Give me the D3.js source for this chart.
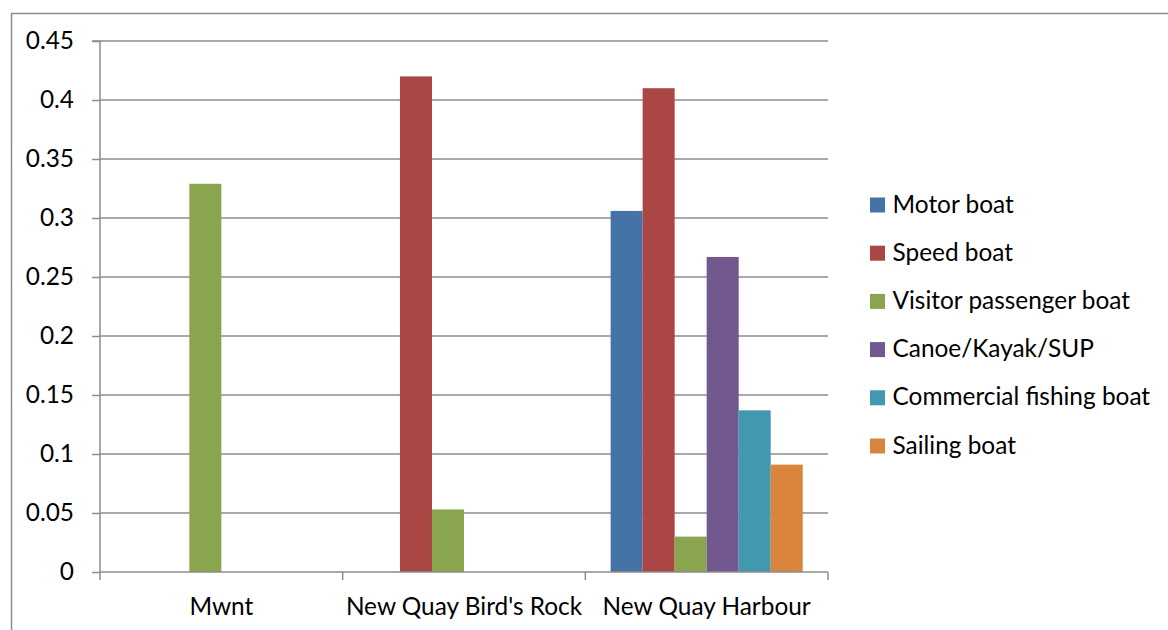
<!DOCTYPE html>
<html><head><meta charset="utf-8">
<script src="https://cdn.jsdelivr.net/npm/d3@7"></script>
<style>body{margin:0;background:#fff;} text{font-family:Lato,"Open Sans",sans-serif;fill:#000;}</style>
</head><body>
<svg id="c" width="1168" height="630"></svg>
<script>
const categories = ["Mwnt", "New Quay Bird's Rock", "New Quay Harbour"];
const seriesNames = ["Motor boat", "Speed boat", "Visitor passenger boat", "Canoe/Kayak/SUP", "Commercial fishing boat", "Sailing boat"];
const seriesColors = ["#4572A7", "#AA4643", "#89A54E", "#71588F", "#4198AF", "#DB843D"];
const motorBoat = [0, 0, 0.306];
const speedBoat = [0, 0.42, 0.41];
const visitorBoat = [0.329, 0.053, 0.03];
const canoeKayak = [0, 0, 0.267];
const fishingBoat = [0, 0, 0.137];
const sailingBoat = [0, 0, 0.091];
const yTicks = [0, 0.05, 0.1, 0.15, 0.2, 0.25, 0.3, 0.35, 0.4, 0.45];
const yTickLabels = ["0", "0.05", "0.1", "0.15", "0.2", "0.25", "0.3", "0.35", "0.4", "0.45"];

const values = [motorBoat, speedBoat, visitorBoat, canoeKayak, fishingBoat, sailingBoat];
const svg = d3.select("#c");
const L = 100, R = 828, T = 41, B = 572;
const FS = "24.4px";

svg.append("rect").attr("x", 11.5).attr("y", 13.5).attr("width", 1200).attr("height", 700)
  .attr("fill", "none").attr("stroke", "#8c8c8c").attr("stroke-width", 1.5);

const y = d3.scaleLinear().domain([0, 0.45]).range([B, T]);
const x0 = d3.scaleBand().domain(categories).range([L, R]).paddingInner(0).paddingOuter(0);
const x1 = d3.scaleBand().domain(d3.range(seriesNames.length)).range([0, x0.bandwidth()]).paddingOuter(0.79).paddingInner(0);

// gridlines
svg.append("g").selectAll("line").data(yTicks.slice(1)).join("line")
  .attr("x1", L).attr("x2", R).attr("y1", d => y(d)).attr("y2", d => y(d))
  .attr("stroke", "#8c8c8c").attr("stroke-width", 1.5);

// bars
values.forEach((vals, si) => {
  svg.append("g").selectAll("rect").data(categories).join("rect")
    .attr("x", (c) => x0(c) + x1(si))
    .attr("width", x1.bandwidth())
    .attr("y", (c, i) => y(vals[i]))
    .attr("height", (c, i) => B - y(vals[i]))
    .attr("fill", seriesColors[si]);
});

// y axis
const yAxis = d3.axisLeft(y).tickValues(yTicks).tickFormat((d, i) => yTickLabels[i]).tickSize(8).tickPadding(18);
const gy = svg.append("g").attr("transform", `translate(${L},0)`).call(yAxis);
gy.select(".domain").attr("stroke", "#8c8c8c").attr("stroke-width", 1.5).attr("d", `M-8,${T}H0V${B}`);
gy.selectAll(".tick line").attr("stroke", "#8c8c8c").attr("stroke-width", 1.5);
gy.selectAll(".tick text").style("font-size", FS).style("font-family", "Lato, sans-serif").attr("fill", "#000");

// x axis
const xAxis = d3.axisBottom(x0).tickSize(0).tickPadding(26);
const gx = svg.append("g").attr("transform", `translate(0,${B})`).call(xAxis);
gx.select(".domain").attr("stroke", "#8c8c8c").attr("stroke-width", 1.5).attr("d", `M${L},0H${R}`);
gx.selectAll(".tick text").style("font-size", FS).style("font-family", "Lato, sans-serif").attr("fill", "#000").attr("dy", "0.71em");
const bounds = categories.map(c => x0(c)).concat([R]);
gx.append("g").selectAll("line").data(bounds).join("line")
  .attr("x1", d => d).attr("x2", d => d).attr("y1", 0).attr("y2", 8)
  .attr("stroke", "#8c8c8c").attr("stroke-width", 1.5);

// legend
const lg = svg.append("g").attr("transform", "translate(870,205)");
const items = lg.selectAll("g").data(seriesNames).join("g").attr("transform", (d, i) => `translate(0,${i * 48.2})`);
items.append("rect").attr("x", 0).attr("y", -7.5).attr("width", 15).attr("height", 15).attr("fill", (d, i) => seriesColors[i]);
items.append("text").attr("x", 22.5).attr("y", -1).attr("dy", "0.35em").style("font-size", FS).text(d => d);
</script>
</body></html>
